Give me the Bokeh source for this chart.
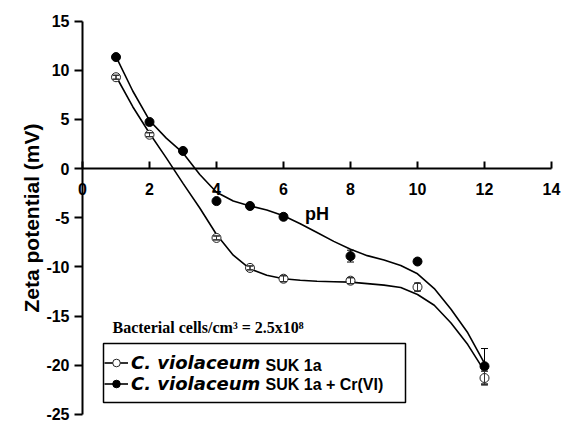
from bokeh.plotting import figure
from bokeh.models import (Range1d, FixedTicker, Legend, LegendItem, Label, BoxAnnotation,
                          Whisker, TeeHead, ColumnDataSource, CustomJSTickFormatter)
from bokeh.embed import file_html
from bokeh.resources import INLINE

# --- data ---
open_ph = [1, 2, 4, 5, 6, 8, 10, 12]
open_zeta = [9.3, 3.45, -7.05, -10.1, -11.2, -11.4, -12.05, -21.3]
open_err = [0.2, 0.2, 0.2, 0.2, 0.3, 0.3, 0.4, 0.7]

cr_ph = [1, 2, 3, 4, 5, 6, 8, 10, 12]
cr_zeta = [11.35, 4.75, 1.8, -3.3, -3.8, -4.9, -8.9, -9.45, -20.1]
cr_err = [0.1, 0.1, 0.1, 0.1, 0.1, 0.3, 0.6, 0.1, 1.8]

# fitted curves
fit_ph = [1, 1.5, 2, 2.5, 3, 3.5, 4, 4.5, 5, 5.5, 6, 6.5, 7, 7.5, 8, 8.5,
          9, 9.5, 10, 10.5, 11, 11.5, 12]
open_fit = [9.4, 6.3, 3.6, 1.1, -1.5, -4.0, -6.7, -8.8, -10.2, -10.85, -11.2,
            -11.35, -11.45, -11.5, -11.55, -11.7, -11.85, -12.1, -12.8, -13.9,
            -15.7, -17.9, -20.6]
cr_fit = [11.4, 7.9, 4.9, 3.1, 1.6, -0.6, -2.4, -3.3, -3.8, -4.2, -4.8, -5.6,
          -6.5, -7.4, -8.2, -8.85, -9.3, -9.85, -10.7, -12.2, -14.3, -16.7, -19.8]

x_ticks = [0, 2, 4, 6, 8, 10, 12, 14]
y_ticks = [-25, -20, -15, -10, -5, 0, 5, 10, 15]

FONT = "Liberation Sans"

p = figure(width=562, height=424, output_backend="svg", toolbar_location=None, title=None,
           x_range=Range1d(-2.448, 14.328), y_range=Range1d(-26.03, 17.106),
           min_border=0)
p.outline_line_color = None
p.grid.visible = False

fmt = CustomJSTickFormatter(code="return tick.toString();")

# axes (both fixed at zero, limited to the data span)
p.xaxis.fixed_location = 0
p.xaxis.bounds = (0, 14)
p.xaxis.ticker = FixedTicker(ticks=x_ticks)
p.xaxis.formatter = fmt
p.xaxis.major_tick_in = 7
p.xaxis.major_tick_out = 0
p.xaxis.minor_tick_line_color = None
p.xaxis.major_label_standoff = 14
p.xaxis.axis_label = "pH"
p.xaxis.axis_label_standoff = 6
p.xaxis.axis_label_text_font = FONT
p.xaxis.axis_label_text_font_style = "bold"
p.xaxis.axis_label_text_font_size = "18px"

p.yaxis.fixed_location = 0
p.yaxis.bounds = (-25, 15)
p.yaxis.ticker = FixedTicker(ticks=y_ticks)
p.yaxis.formatter = fmt
p.yaxis.major_tick_in = 0
p.yaxis.major_tick_out = 8
p.yaxis.minor_tick_line_color = None
p.yaxis.major_label_standoff = 5
p.yaxis.axis_label = "Zeta potential (mV)"
p.yaxis.axis_label_standoff = 0
p.yaxis.axis_label_text_font = FONT
p.yaxis.axis_label_text_font_style = "bold"
p.yaxis.axis_label_text_font_size = "21px"

for ax in (p.xaxis, p.yaxis):
    ax.axis_line_width = 2
    ax.major_tick_line_width = 2
    ax.axis_line_color = "black"
    ax.major_tick_line_color = "black"
    ax.major_label_text_font = FONT
    ax.major_label_text_font_style = "bold"
    ax.major_label_text_font_size = "16px"
    ax.major_label_text_color = "black"
    ax.axis_label_text_color = "black"

# curves
open_line = p.line(fit_ph, open_fit, line_color="black", line_width=1.6)
cr_line = p.line(fit_ph, cr_fit, line_color="black", line_width=1.6)

# error bars
osrc = ColumnDataSource(dict(x=open_ph, y=open_zeta,
                             lo=[v - e for v, e in zip(open_zeta, open_err)],
                             hi=[v + e for v, e in zip(open_zeta, open_err)]))
csrc = ColumnDataSource(dict(x=cr_ph, y=cr_zeta,
                             lo=[v - e for v, e in zip(cr_zeta, cr_err)],
                             hi=[v + e for v, e in zip(cr_zeta, cr_err)]))
for src in (osrc, csrc):
    w = Whisker(source=src, base="x", upper="hi", lower="lo", line_color="black",
                line_width=1, level="glyph",
                upper_head=TeeHead(size=7, line_color="black", line_width=1),
                lower_head=TeeHead(size=7, line_color="black", line_width=1))
    p.add_layout(w)

open_pts = p.scatter("x", "y", source=osrc, marker="circle", size=9,
                     fill_color="white", line_color="#222222", line_width=1)
cr_pts = p.scatter("x", "y", source=csrc, marker="circle", size=9,
                   fill_color="black", line_color="black", line_width=1)
# error bars of the open points, visible through their white fill
w2 = Whisker(source=osrc, base="x", upper="hi", lower="lo", line_color="#333333",
             line_width=1, level="annotation",
             upper_head=TeeHead(size=6, line_color="#333333", line_width=1),
             lower_head=TeeHead(size=6, line_color="#333333", line_width=1))
p.add_layout(w2)

# legend box
box = BoxAnnotation(left=103, right=405, top=81, bottom=22,
                    left_units="screen", right_units="screen",
                    top_units="screen", bottom_units="screen",
                    fill_alpha=0, line_color="black", line_alpha=1, line_width=1.5)
p.add_layout(box)

legend = Legend(items=[LegendItem(label="C. violaceum", renderers=[open_line, open_pts]),
                       LegendItem(label="C. violaceum", renderers=[cr_line, cr_pts])],
                location=(104, 30.5), padding=0, spacing=0, margin=0,
                glyph_width=24, glyph_height=19, label_height=19, label_standoff=3,
                label_text_font="DejaVu Sans", label_text_font_style="bold italic",
                label_text_font_size="18px", label_text_color="black",
                border_line_alpha=0, background_fill_alpha=0)
p.add_layout(legend)

for txt, yy in (("SUK 1a", 59), ("SUK 1a + Cr(VI)", 40)):
    p.add_layout(Label(x=265, y=yy, x_units="screen", y_units="screen", text=txt,
                       text_font=FONT, text_font_style="bold", text_font_size="16px",
                       text_baseline="middle", text_color="black"))

p.add_layout(Label(x=112, y=97, x_units="screen", y_units="screen",
                   text="Bacterial cells/cm\u00b3 = 2.5x10\u2078",
                   text_font="Liberation Serif", text_font_style="bold",
                   text_font_size="16px", text_baseline="alphabetic", text_color="black"))

open("out.html", "w").write(file_html(p, INLINE))
